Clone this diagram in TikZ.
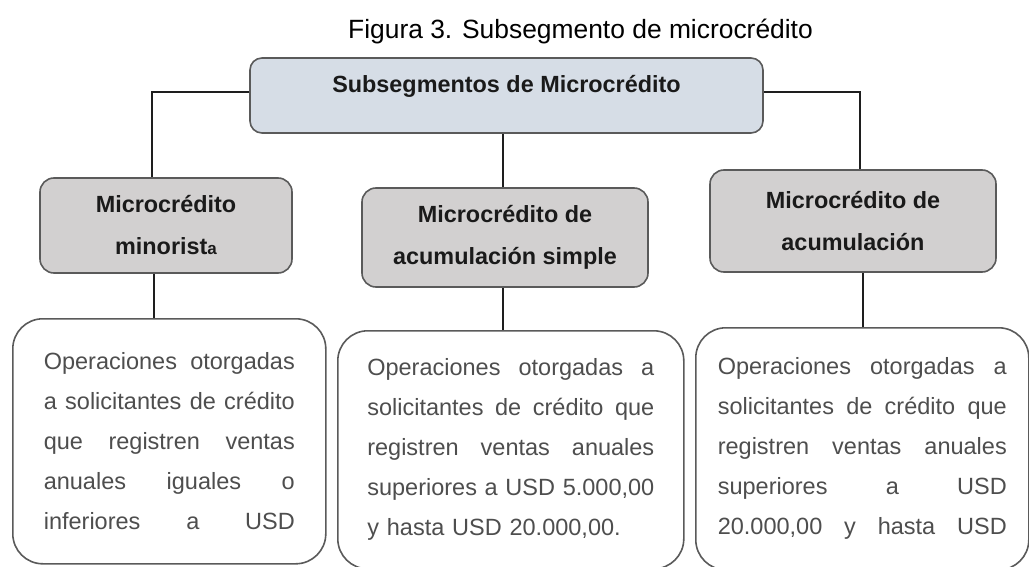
\documentclass[tikz,border=0pt]{standalone}
\usepackage{fontspec}
\setmainfont{Liberation Sans}
\definecolor{boxline}{HTML}{5A5A5A}
\definecolor{topfill}{HTML}{D6DDE6}
\definecolor{catfill}{HTML}{D2D0D0}
\definecolor{linkcol}{HTML}{1E1E1E}
\definecolor{labeltext}{HTML}{1A1A1A}
\definecolor{desctext}{HTML}{4E4E4E}
\newcommand{\jrow}[2]{\leavevmode\hbox to #1{#2}}
\begin{document}
\begin{tikzpicture}[x=1pt,y=-1pt,
  topbox/.style={draw=boxline, fill=topfill, rounded corners=12pt, line width=1.6pt,
    minimum width=513pt, minimum height=75pt, inner sep=0pt,
    font=\bfseries\fontsize{23.4}{28}\selectfont, text=labeltext},
  catbox/.style={draw=boxline, fill=catfill, rounded corners=14pt, line width=1.6pt,
    inner sep=0pt, align=center, font=\bfseries\fontsize{23.4}{42}\selectfont, text=labeltext},
  descbox/.style={draw=boxline, fill=white, rounded corners=30pt, line width=1.6pt,
    inner sep=0pt, align=left, anchor=north west, font=\fontsize{23.5}{40}\selectfont, text=desctext},
  link/.style={line width=2.8pt, draw=linkcol},
  titlefont/.style={font=\fontsize{26.4}{30}\selectfont, text=black}
]
\useasboundingbox (0,0) rectangle (1029,567);

\node[titlefont, anchor=base] (title) at (580.5,39) {Figura 3. Subsegmento de microcrédito};

\node[topbox, text height=35pt, text depth=40pt] (top) at (506.5,95.5) {Subsegmentos de Microcrédito};

\node[catbox, minimum width=252pt, minimum height=95pt] (c1) at (166,225.5)
  {Microcrédito\\minorist{\fontsize{17}{20}\selectfont a}};
\node[catbox, minimum width=286pt, minimum height=99pt] (c2) at (505,237.5)
  {Microcrédito de\\acumulación simple};
\node[catbox, minimum width=286pt, minimum height=102pt] (c3) at (853,221)
  {Microcrédito de\\acumulación};

\node[descbox, minimum width=313pt, minimum height=245pt, text width=251pt] (d1) at (12,318)
  {\jrow{251pt}{Operaciones\hfill otorgadas}\\
   \jrow{251pt}{a\hfill solicitantes\hfill de\hfill crédito}\\
   \jrow{251pt}{que\hfill registren\hfill ventas}\\
   \jrow{251pt}{anuales\hfill iguales\hfill o}\\
   \jrow{251pt}{inferiores\hfill a\hfill USD}};
\node[descbox, minimum width=346pt, minimum height=238pt, text width=287pt] (d2) at (337,330)
  {\jrow{287pt}{Operaciones\hfill otorgadas\hfill a}\\
   \jrow{287pt}{solicitantes\hfill de\hfill crédito\hfill que}\\
   \jrow{287pt}{registren\hfill ventas\hfill anuales}\\
   \jrow{287pt}{superiores\hfill a\hfill USD\hfill 5.000,00}\\
   y hasta USD 20.000,00.};
\node[descbox, minimum width=333pt, minimum height=242pt, text width=289pt] (d3) at (695,327)
  {\jrow{289pt}{Operaciones\hfill otorgadas\hfill a}\\
   \jrow{289pt}{solicitantes\hfill de\hfill crédito\hfill que}\\
   \jrow{289pt}{registren\hfill ventas\hfill anuales}\\
   \jrow{289pt}{superiores\hfill a\hfill USD}\\
   \jrow{289pt}{20.000,00\hfill y\hfill hasta\hfill USD}};

% connectors
\draw[link] ([yshift=3.5pt]top.west) -| ([xshift=-14pt]c1.north);
\draw[link] ([yshift=3.5pt]top.east) -| ([xshift=7pt]c3.north);
\draw[link] ([xshift=-3.5pt]top.south) -- ([xshift=-3.5pt]top.south |- c2.north);
\draw[link] ([xshift=-12pt]c1.south) -- ([xshift=-12pt]c1.south |- d1.north);
\draw[link] ([xshift=-2pt]c2.south) -- ([xshift=-2pt]c2.south |- d2.north);
\draw[link] ([xshift=10pt]c3.south) -- ([xshift=10pt]c3.south |- d3.north);
\end{tikzpicture}
\end{document}
